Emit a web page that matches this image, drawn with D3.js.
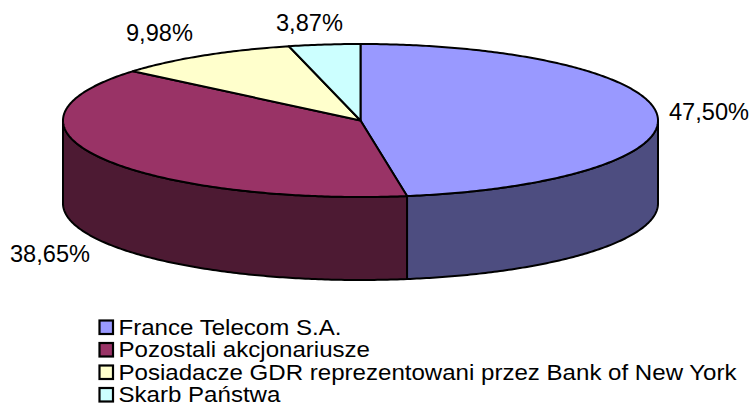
<!DOCTYPE html>
<html><head><meta charset="utf-8">
<script src="https://cdn.jsdelivr.net/npm/d3@7"></script>
<style>html,body{margin:0;padding:0;background:#fff;overflow:hidden}
text{font-family:"Liberation Sans",Arial,sans-serif;fill:#000}</style>
</head><body>
<svg id="c" width="750" height="403"></svg>
<script>
const categories=["France Telecom S.A.","Pozostali akcjonariusze","Posiadacze GDR reprezentowani przez Bank of New York","Skarb Państwa"];
const values=[47.50,38.65,9.98,3.87];
const valueLabels=["47,50%","38,65%","9,98%","3,87%"];
const topColors=["#9999ff","#993366","#ffffcc","#ccffff"];
const sideColors=["#4d4d80","#4d1a33","#808066","#668080"];

const cx=360.5,cy=120.5,rx=297.5,ry=76.5,depth=83;
const svg=d3.select("#c");
const arcs=d3.pie().sort(null).value(d=>d)(values);
const px=t=>cx+rx*Math.sin(t), py=t=>cy-ry*Math.cos(t);
const ang=d3.scaleLinear().domain([0,1]);
const line=d3.line().x(d=>d[0]).y(d=>d[1]);
function sample(a,b,dy){
  const n=Math.max(2,Math.ceil(Math.abs(b-a)*90));
  ang.range([a,b]);
  return d3.range(n+1).map(i=>{const t=ang(i/n);return [px(t),py(t)+dy];});
}
const lo=Math.PI/2,hi=3*Math.PI/2;
arcs.forEach((d,i)=>{
  const a=Math.max(d.startAngle,lo),b=Math.min(d.endAngle,hi);
  if(b<=a)return;
  const pts=sample(a,b,0).concat(sample(b,a,depth));
  svg.append("path").attr("d",line(pts)+"Z").attr("fill",sideColors[i])
    .attr("stroke","#000").attr("stroke-width",2).attr("stroke-linejoin","round");
});
arcs.forEach((d,i)=>{
  const pts=[[cx,cy]].concat(sample(d.startAngle,d.endAngle,0));
  svg.append("path").attr("d",line(pts)+"Z").attr("fill",topColors[i])
    .attr("stroke","#000").attr("stroke-width",2).attr("stroke-linejoin","round");
});
const labelPos=[[669,120],[10,262],[126,41],[276,30.5]];
svg.selectAll("text.v").data(valueLabels).join("text").attr("class","v")
  .attr("x",(d,i)=>labelPos[i][0]).attr("y",(d,i)=>labelPos[i][1])
  .attr("font-size",23.6).text(d=>d);
const rowY=d3.scalePoint().domain(d3.range(categories.length)).range([327,394.5]);
const g=svg.selectAll("g.l").data(categories).join("g").attr("class","l");
g.append("rect").attr("x",99.5).attr("y",(d,i)=>rowY(i)-6.5).attr("width",13.5).attr("height",13.5)
  .attr("fill",(d,i)=>topColors[i]).attr("stroke","#000").attr("stroke-width",2.2);
g.append("text").attr("transform",(d,i)=>`translate(118.5,${rowY(i)+7.5}) scale(1.095,1)`)
  .attr("font-size",22).text(d=>d);
</script>
</body></html>
